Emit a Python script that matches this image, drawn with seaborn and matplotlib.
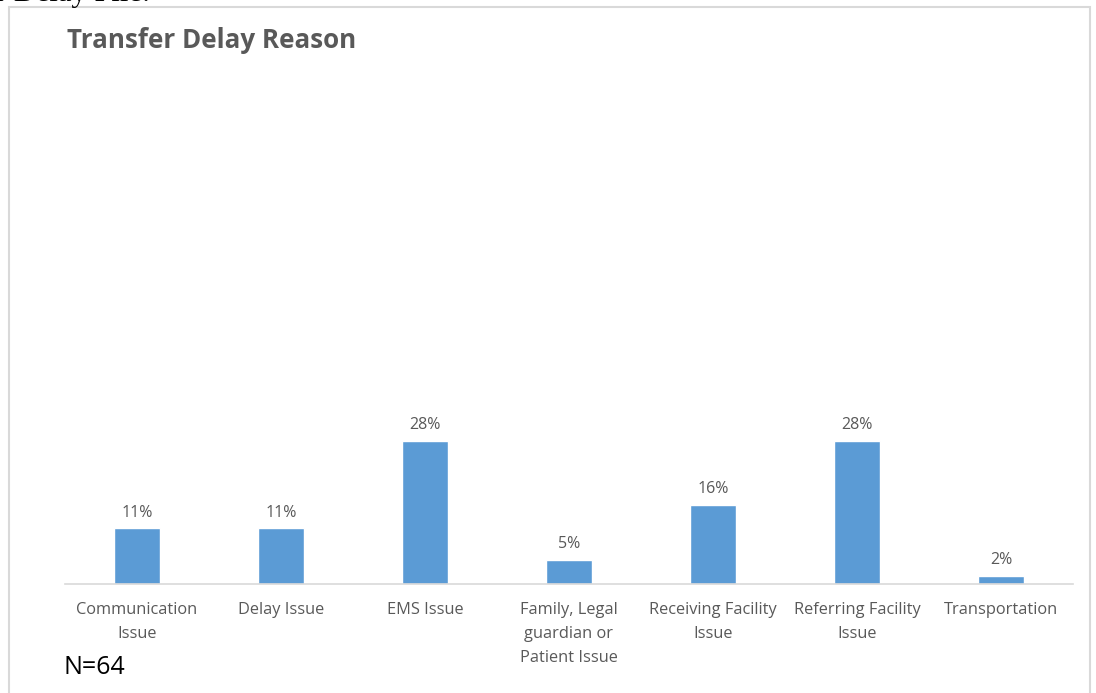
import matplotlib

matplotlib.use("Agg")

import matplotlib.pyplot as plt
import pandas as pd
import seaborn as sns
from matplotlib.patches import Rectangle

# transfer delay reasons, counts out of N=64
categories = [
    "Communication\nIssue",
    "Delay Issue",
    "EMS Issue",
    "Family, Legal\nguardian or\nPatient Issue",
    "Receiving Facility\nIssue",
    "Referring Facility\nIssue",
    "Transportation",
]
counts = [7, 7, 18, 3, 10, 18, 1]
n_total = 64

df = pd.DataFrame({"reason": categories, "count": counts})
df["share"] = df["count"] / n_total

sns.set_theme(style="white")
plt.rcParams["font.family"] = ["Open Sans", "DejaVu Sans"]

grey = "#595959"
fig = plt.figure(figsize=(10.96, 6.93), dpi=100)
ax = fig.add_axes([65 / 1096, 109 / 693, 1008 / 1096, 508 / 693])

sns.barplot(data=df, x="reason", y="share", color="#5B9BD5", width=0.32,
            saturation=1, ax=ax)

for i, v in enumerate(df["share"]):
    ax.text(i, v + 0.031, f"{v:.0%}", ha="center", va="center",
            fontsize=11.5, color=grey)

ax.set_ylim(0, 1)
ax.set_xlim(-0.5, len(categories) - 0.5)
ax.set_yticks([])
ax.set_xlabel("")
ax.set_ylabel("")
ax.tick_params(axis="x", length=0, pad=13, labelsize=11.8, labelcolor=grey)
for lbl in ax.get_xticklabels():
    lbl.set_linespacing(1.68)
    lbl.set_verticalalignment("top")
for side in ["top", "right", "left"]:
    ax.spines[side].set_visible(False)
ax.spines["bottom"].set_color("#D9D9D9")
ax.spines["bottom"].set_linewidth(1.2)

# chart frame
fig.patches.append(Rectangle((9 / 1096, -0.1), 1081 / 1096, 1.1 - 7 / 693,
                             transform=fig.transFigure, fill=False,
                             edgecolor="#D9D9D9", linewidth=1.5))

fig.text(67 / 1096, 1 - 40 / 693, "Transfer Delay Reason", fontsize=18.7,
         fontweight="bold", color=grey, va="center")
fig.text(63 / 1096, 1 - 668 / 693, "N=64", fontsize=18, color="black",
         va="center")
# clipped document text above the chart
fig.text(-4 / 1096, 1 - 1 / 693, "r Delay File:", fontsize=22,
         family="Liberation Serif", color="black", va="baseline")

fig.savefig("out.png", dpi=100)
